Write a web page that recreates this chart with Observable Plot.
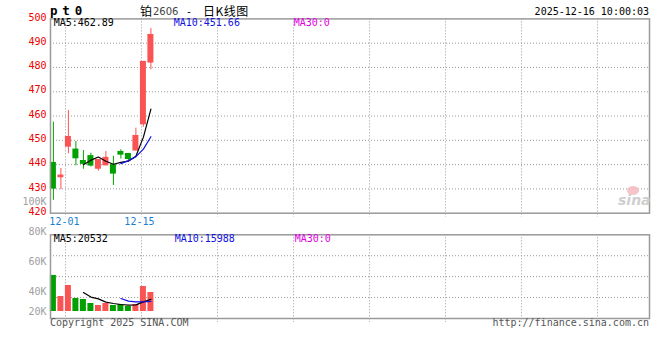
<!DOCTYPE html>
<html><head><meta charset="utf-8">
<script src="https://cdn.jsdelivr.net/npm/d3@7"></script>
<script src="https://cdn.jsdelivr.net/npm/@observablehq/plot@0.6"></script>
<style>
html,body{margin:0;padding:0;background:#fff;}
#wrap{position:relative;width:660px;height:360px;overflow:hidden;font-family:"DejaVu Sans Mono",monospace;font-size:10px;color:#000;}
.t{position:absolute;white-space:pre;line-height:10px;font-size:10px;font-family:"DejaVu Sans Mono",monospace;}
.cjk{position:absolute;white-space:pre;line-height:12px;font-size:12px;font-family:"Noto Sans CJK SC",sans-serif;}
#price,#vol{position:absolute;left:0;}
#price{top:0}
#vol{top:195px}
svg{overflow:visible;}
</style></head><body>
<div id="wrap">
  <div id="price"></div>
  <div id="vol"></div>
  <div class="t" style="left:50px;top:5px;font-size:12.5px;line-height:12px;font-weight:bold;letter-spacing:4.8px;">pt0</div>
  <div class="cjk" style="left:140px;top:4.5px;">铂</div>
  <div class="t" style="left:153px;top:7px;font-family:'DejaVu Sans',sans-serif;color:#444;">2606</div>
  <div class="t" style="left:186px;top:7px;">-</div>
  <div class="cjk" style="left:203px;top:4.5px;letter-spacing:0.5px;">日K线图</div>
  <div class="t" style="right:11px;top:6.5px;">2025-12-16 10:00:03</div>
  <div class="t" style="left:53.7px;top:18.3px;color:#000;">MA5:462.89</div>
  <div class="t" style="left:173.7px;top:18.3px;color:#1010e0;">MA10:451.66</div>
  <div class="t" style="left:293.7px;top:18.3px;color:#e000e0;">MA30:0</div>
  <div class="t" style="left:53.7px;top:233.5px;color:#000;">MA5:20532</div>
  <div class="t" style="left:174.7px;top:233.5px;color:#1010e0;">MA10:15988</div>
  <div class="t" style="left:294.7px;top:233.5px;color:#e000e0;">MA30:0</div>
  <div class="t" style="left:50px;top:318px;color:#555;">Copyright 2025 SINA.COM</div>
  <div class="t" style="right:11px;top:318px;color:#555;">http://finance.sina.com.cn</div>
  <div style="position:absolute;left:627px;top:186px;width:12px;height:9px;border-radius:50%;background:#f4b6bd;opacity:0.8;"></div>
  <div class="t" style="left:618px;top:193px;font-family:'DejaVu Sans',sans-serif;font-weight:bold;font-style:italic;font-size:14px;line-height:15px;color:#cfcfcf;">sina</div>
</div>
<script>
// ---- data ----
const dates  = ["11-27","11-28","12-01","12-02","12-03","12-04","12-05","12-08","12-09","12-10","12-11","12-12","12-15","12-16"];
const openP  = [440.9, 434.6, 447.2, 446.4, 441.7, 443.7, 438.1, 439.5, 440.0, 445.4, 444.6, 445.6, 456.4, 481.8];
const closeP = [429.9, 435.7, 451.6, 442.4, 440.1, 439.4, 442.1, 443.0, 436.1, 443.9, 442.1, 452.0, 482.5, 493.6];
const highP  = [457.5, 438.4, 462.3, 449.5, 445.8, 444.7, 442.1, 445.4, 443.4, 446.1, 444.6, 455.0, 482.5, 496.0];
const lowP   = [425.3, 429.7, 444.5, 439.5, 438.1, 439.0, 437.3, 439.5, 431.4, 442.3, 441.7, 445.6, 455.4, 479.0];
const volume = [50700, 35000, 44000, 33000, 32000, 28000, 26000, 28000, 26000, 27000, 25000, 27000, 43300, 39000];
const priceTicks = [420, 430, 440, 450, 460, 470, 480, 490, 500];
const volTicks = [20000, 40000, 60000, 80000, 100000];
const xLabelDates = ["12-01", "12-15"];

// ---- styling / helpers ----
const RED = "#fa5353", GREEN = "#00a000", BLUE = "#1010e0";
const idx = dates.map((_, i) => i);
const up = i => closeP[i] >= openP[i];
const col = i => up(i) ? RED : GREEN;
const ma = (a, n) => a.map((_, i) => i < n - 1 ? NaN : d3.mean(a.slice(i - n + 1, i + 1)));
const ma5 = ma(closeP, 5), ma10 = ma(closeP, 10);
const vma5 = ma(volume, 5), vma10 = ma(volume, 10);

const xScale = {type: "linear", domain: [-0.387, 79.48], range: [50, 649]};
const vGrid = d3.range(1.613, 79, 10.133);
const baseStyle = {fontFamily: "'DejaVu Sans Mono', monospace", fontSize: "10px", background: "transparent", overflow: "visible"};
const grid = {stroke: "#999", strokeDasharray: "1,2", strokeWidth: 1};

const price = Plot.plot({
  width: 660, height: 226,
  marginLeft: 50, marginRight: 11, marginTop: 18.4, marginBottom: 13.3,
  style: baseStyle,
  x: xScale,
  y: {domain: [420, 500]},
  marks: [
    Plot.ruleY(priceTicks.slice(1, -1), grid),
    Plot.ruleX(vGrid, {...grid, insetBottom: -4}),
    Plot.ruleX(idx, {x: i => i, y1: i => lowP[i], y2: i => highP[i], stroke: col, strokeWidth: 1}),
    Plot.rect(idx, {x1: i => i - 0.4, x2: i => i + 0.4, y1: i => openP[i], y2: i => closeP[i], fill: col}),
    Plot.line(idx, {x: i => i, y: i => ma5[i], stroke: "#000", strokeWidth: 1.2}),
    Plot.line(idx, {x: i => i, y: i => ma10[i], stroke: BLUE, strokeWidth: 1.2}),
    Plot.frame({stroke: "#9a9a9a", strokeWidth: 1.5}),
    Plot.axisY({ticks: priceTicks, tickSize: 0, tickPadding: 4, color: "#ee0000", dy: -1.5, label: null}),
    Plot.axisX({ticks: xLabelDates.map(d => dates.indexOf(d)), tickFormat: i => dates[i], tickSize: 0, tickPadding: 5, color: "#1a7fd2", dx: -4, label: null})
  ]
});
document.getElementById("price").append(price);

const volY = {type: "linear", domain: [13000, 20000, 40000, 100000], range: [123, 116, 96, 6]};
const volBase = 20000;
const inv = d3.scaleLinear().domain(volY.range).range(volY.domain);
const vGridY = [1, 2, 3].map(k => inv(39.3 + k * (123 - 39.3) / 4));

const vol = Plot.plot({
  width: 660, height: 124,
  marginLeft: 50, marginRight: 11, marginTop: 39.3, marginBottom: 1,
  style: baseStyle,
  x: {...xScale, axis: null},
  y: volY,
  marks: [
    Plot.ruleY(vGridY, grid),
    Plot.ruleX(vGrid, {...grid, insetBottom: -4}),
    Plot.rect(idx, {x1: i => i - 0.4, x2: i => i + 0.4, y1: volBase, y2: i => volume[i], fill: col}),
    Plot.line(idx, {x: i => i, y: i => vma5[i], stroke: "#000", strokeWidth: 1.2}),
    Plot.line(idx, {x: i => i, y: i => vma10[i], stroke: BLUE, strokeWidth: 1.2}),
    Plot.frame({stroke: "#9a9a9a", strokeWidth: 1.5}),
    Plot.axisY({ticks: volTicks, tickFormat: d => d / 1000 + "K", tickSize: 0, tickPadding: 4, color: "#a0a0a0", label: null})
  ]
});
document.getElementById("vol").append(vol);
</script>
</body></html>
